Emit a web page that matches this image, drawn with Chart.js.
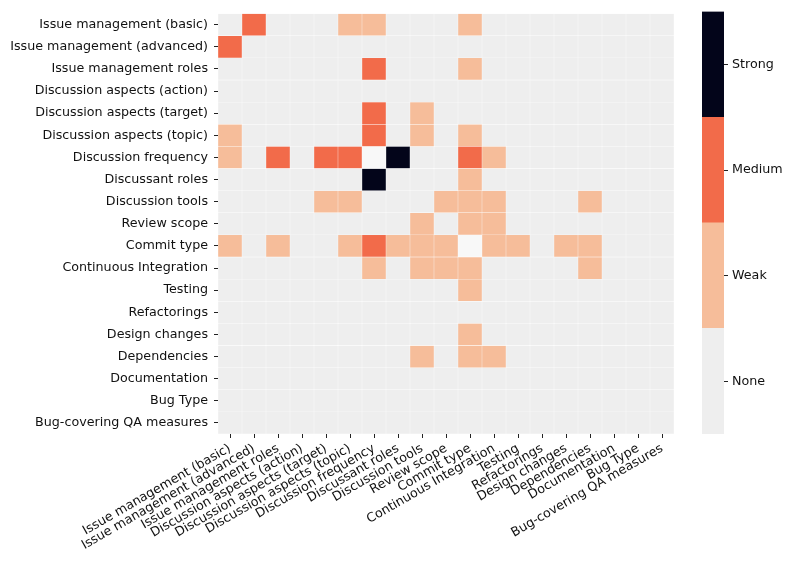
<!DOCTYPE html>
<html>
<head>
<meta charset="utf-8">
<script src="https://cdn.jsdelivr.net/npm/chart.js@4.4.1/dist/chart.umd.min.js"></script>
<style>
  body { margin: 0; background: #fff; }
  #wrap { position: relative; width: 793px; height: 572px; }
  #heatmap { position: absolute; left: 0; top: 0; }
  #colorbar { position: absolute; left: 690px; top: 0; }
</style>
</head>
<body>
<div id="wrap">
  <canvas id="heatmap" width="690" height="572"></canvas>
  <canvas id="colorbar" width="103" height="572"></canvas>
</div>
<script>
// ================= DATA =================
const categories = [
  "Issue management (basic)",
  "Issue management (advanced)",
  "Issue management roles",
  "Discussion aspects (action)",
  "Discussion aspects (target)",
  "Discussion aspects (topic)",
  "Discussion frequency",
  "Discussant roles",
  "Discussion tools",
  "Review scope",
  "Commit type",
  "Continuous Integration",
  "Testing",
  "Refactorings",
  "Design changes",
  "Dependencies",
  "Documentation",
  "Bug Type",
  "Bug-covering QA measures"
];

const levelLabels = ["None", "Weak", "Medium", "Strong"];

// 0 = None, 1 = Weak, 2 = Medium, 3 = Strong, null = not rated
const strength = [
  [0, 2, 0, 0, 0, 1, 1, 0, 0, 0, 1, 0, 0, 0, 0, 0, 0, 0, 0],
  [2, 0, 0, 0, 0, 0, 0, 0, 0, 0, 0, 0, 0, 0, 0, 0, 0, 0, 0],
  [0, 0, 0, 0, 0, 0, 2, 0, 0, 0, 1, 0, 0, 0, 0, 0, 0, 0, 0],
  [0, 0, 0, 0, 0, 0, 0, 0, 0, 0, 0, 0, 0, 0, 0, 0, 0, 0, 0],
  [0, 0, 0, 0, 0, 0, 2, 0, 1, 0, 0, 0, 0, 0, 0, 0, 0, 0, 0],
  [1, 0, 0, 0, 0, 0, 2, 0, 1, 0, 1, 0, 0, 0, 0, 0, 0, 0, 0],
  [1, 0, 2, 0, 2, 2, null, 3, 0, 0, 2, 1, 0, 0, 0, 0, 0, 0, 0],
  [0, 0, 0, 0, 0, 0, 3, 0, 0, 0, 1, 0, 0, 0, 0, 0, 0, 0, 0],
  [0, 0, 0, 0, 1, 1, 0, 0, 0, 1, 1, 1, 0, 0, 0, 1, 0, 0, 0],
  [0, 0, 0, 0, 0, 0, 0, 0, 1, 0, 1, 1, 0, 0, 0, 0, 0, 0, 0],
  [1, 0, 1, 0, 0, 1, 2, 1, 1, 1, null, 1, 1, 0, 1, 1, 0, 0, 0],
  [0, 0, 0, 0, 0, 0, 1, 0, 1, 1, 1, 0, 0, 0, 0, 1, 0, 0, 0],
  [0, 0, 0, 0, 0, 0, 0, 0, 0, 0, 1, 0, 0, 0, 0, 0, 0, 0, 0],
  [0, 0, 0, 0, 0, 0, 0, 0, 0, 0, 0, 0, 0, 0, 0, 0, 0, 0, 0],
  [0, 0, 0, 0, 0, 0, 0, 0, 0, 0, 1, 0, 0, 0, 0, 0, 0, 0, 0],
  [0, 0, 0, 0, 0, 0, 0, 0, 1, 0, 1, 1, 0, 0, 0, 0, 0, 0, 0],
  [0, 0, 0, 0, 0, 0, 0, 0, 0, 0, 0, 0, 0, 0, 0, 0, 0, 0, 0],
  [0, 0, 0, 0, 0, 0, 0, 0, 0, 0, 0, 0, 0, 0, 0, 0, 0, 0, 0],
  [0, 0, 0, 0, 0, 0, 0, 0, 0, 0, 0, 0, 0, 0, 0, 0, 0, 0, 0]
];

// ================= STYLE =================
const levelColors = ["#eeeeee", "#f6bd9a", "#f26b4a", "#03051a"];
const missingColor = "#f8f8f8";
const FONT = { family: "'DejaVu Sans', sans-serif", size: 12.7 };
Chart.defaults.color = "#111";

// ================= HEATMAP =================
// one floating-bar dataset per row, all stacked on the same x slot
const rowDatasets = categories.map((rowName, i) => ({
  label: rowName,
  data: categories.map(() => [i, i + 1]),
  backgroundColor: strength[i].map(v => v === null ? missingColor : levelColors[v]),
  borderColor: "rgba(255,255,255,0.3)",
  borderWidth: 0.5,
  borderSkipped: false,
  barPercentage: 1,
  categoryPercentage: 1
}));

new Chart(document.getElementById("heatmap"), {
  type: "bar",
  data: { labels: categories, datasets: rowDatasets },
  options: {
    responsive: false,
    animation: false,
    layout: { padding: { top: 9, right: 16, left: 0, bottom: 0 } },
    plugins: { legend: { display: false }, tooltip: { enabled: false } },
    scales: {
      x: {
        stacked: true,
        grid: { offset: false, drawOnChartArea: false, tickLength: 4, color: "#222" },
        border: { display: false },
        ticks: { font: FONT, minRotation: 30, maxRotation: 30, padding: 3, autoSkip: false },
        afterFit: s => { s.height = 138; }
      },
      y: {
        min: 0,
        max: categories.length,
        reverse: true,
        grid: { drawOnChartArea: false, tickLength: 4, color: "#222" },
        border: { display: false },
        afterBuildTicks: s => { s.ticks = categories.map((_, i) => ({ value: i + 0.5 })); },
        ticks: { font: FONT, padding: 6, callback: v => categories[Math.floor(v)] },
        afterFit: s => { s.width = 218; }
      }
    }
  }
});

// ================= COLORBAR =================
new Chart(document.getElementById("colorbar"), {
  type: "bar",
  data: {
    labels: [""],
    datasets: levelLabels.map((name, k) => ({
      label: name,
      data: [[k, k + 1]],
      backgroundColor: levelColors[k],
      borderWidth: 0,
      barPercentage: 1,
      categoryPercentage: 1
    }))
  },
  options: {
    responsive: false,
    animation: false,
    layout: { padding: { top: 9, left: 12, right: 0, bottom: 138 } },
    plugins: { legend: { display: false }, tooltip: { enabled: false } },
    scales: {
      x: { stacked: true, display: false },
      y: {
        position: "right",
        min: 0,
        max: levelLabels.length,
        grid: { drawOnChartArea: false, tickLength: 4, color: "#222" },
        border: { display: false },
        afterBuildTicks: s => { s.ticks = levelLabels.map((_, k) => ({ value: k + 0.5 })); },
        ticks: { font: FONT, padding: 4, callback: v => levelLabels[Math.floor(v)] },
        afterFit: s => { s.width = 69; }
      }
    }
  }
});
</script>
</body>
</html>
